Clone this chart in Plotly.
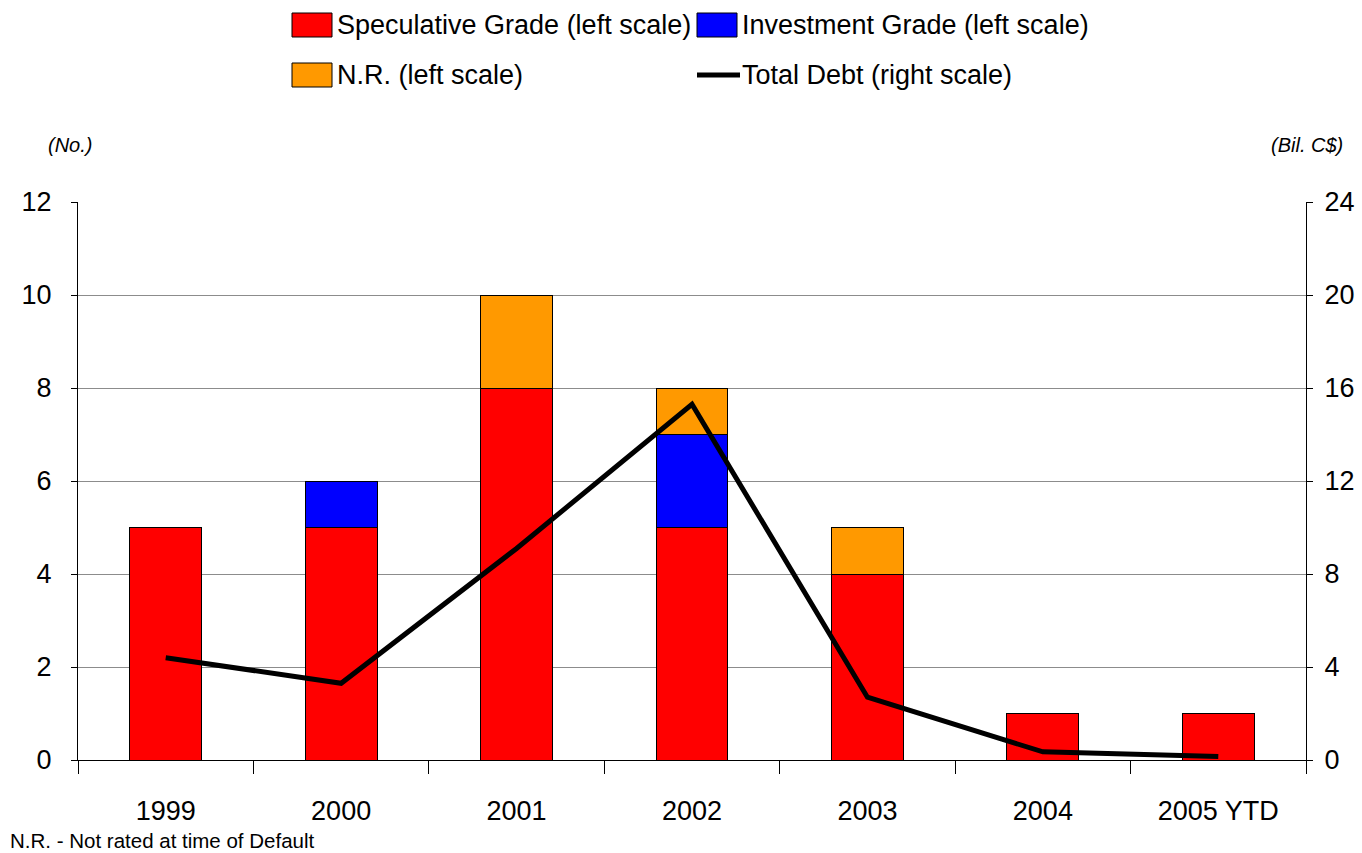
import plotly.graph_objects as go

# Defaults by year
years = ["1999", "2000", "2001", "2002", "2003", "2004", "2005 YTD"]
speculative = [5, 5, 8, 5, 4, 1, 1]
investment = [0, 1, 0, 2, 0, 0, 0]
not_rated = [0, 0, 2, 1, 1, 0, 0]
total_debt = [4.4, 3.3, 9.1, 15.3, 2.7, 0.35, 0.15]  # Bil. C$

left_ticks = [0, 2, 4, 6, 8, 10, 12]
right_ticks = [0, 4, 8, 12, 16, 20, 24]

FONT = "Liberation Sans, Arial, sans-serif"
W, H = 1362, 853
ML, MR, MT, MB = 78, 56, 202, 93
PW, PH = W - ML - MR, H - MT - MB


def px(x):
    return (x - ML) / PW


def py(y):
    return (H - MB - y) / PH


fig = go.Figure()
bar_line = dict(color="black", width=1)
fig.add_trace(go.Bar(x=years, y=speculative, name="Speculative Grade (left scale)",
                     marker=dict(color="#ff0000", line=bar_line), showlegend=False))
fig.add_trace(go.Bar(x=years, y=investment, name="Investment Grade (left scale)",
                     marker=dict(color="#0000ff", line=bar_line), showlegend=False))
fig.add_trace(go.Bar(x=years, y=not_rated, name="N.R. (left scale)",
                     marker=dict(color="#ff9900", line=bar_line), showlegend=False))
fig.add_trace(go.Scatter(x=years, y=total_debt, name="Total Debt (right scale)", yaxis="y2",
                         mode="lines", line=dict(color="black", width=5), showlegend=False))

# Legend drawn as swatches + labels
legend_items = [
    ("Speculative Grade (left scale)", "#ff0000", "box", 292, 25),
    ("Investment Grade (left scale)", "#0000ff", "box", 697, 25),
    ("N.R. (left scale)", "#ff9900", "box", 292, 75),
    ("Total Debt (right scale)", "black", "line", 697, 75),
]
shapes = []
annotations = []
for label, color, kind, x0, yc in legend_items:
    if kind == "box":
        shapes.append(dict(type="rect", xref="paper", yref="paper",
                           x0=px(x0), x1=px(x0 + 40), y0=py(yc + 12), y1=py(yc - 12),
                           fillcolor=color, line=dict(color="black", width=1)))
    else:
        shapes.append(dict(type="line", xref="paper", yref="paper",
                           x0=px(x0), x1=px(x0 + 43), y0=py(yc), y1=py(yc),
                           line=dict(color=color, width=5)))
    annotations.append(dict(text=label, xref="paper", yref="paper", x=px(x0 + 43), y=py(yc),
                            xanchor="left", yanchor="middle", showarrow=False,
                            font=dict(size=27, color="black", family=FONT)))

annotations += [
    dict(text="<i>(No.)</i>", xref="paper", yref="paper", x=px(70), y=py(145),
         xanchor="center", yanchor="middle", showarrow=False,
         font=dict(size=20, color="black", family=FONT)),
    dict(text="<i>(Bil. C$)</i>", xref="paper", yref="paper", x=px(1345), y=py(145),
         xanchor="right", yanchor="middle", showarrow=False,
         font=dict(size=20, color="black", family=FONT)),
    dict(text="N.R. - Not rated at time of Default", xref="paper", yref="paper", x=px(8), y=py(840),
         xanchor="left", yanchor="middle", showarrow=False,
         font=dict(size=20.5, color="black", family=FONT)),
]

fig.update_layout(
    width=W, height=H,
    margin=dict(l=ML, r=MR, t=MT, b=MB, pad=0),
    paper_bgcolor="white", plot_bgcolor="white",
    barmode="stack", bargap=0.59,
    font=dict(family=FONT, color="black", size=27),
    shapes=shapes, annotations=annotations,
    xaxis=dict(type="category", showline=True, linecolor="black", linewidth=1,
               ticks="outside", tickson="boundaries", ticklen=13, tickcolor="black",
               tickfont=dict(size=27), ticklabelstandoff=27, showgrid=False, automargin=False),
    yaxis=dict(range=[0, 12], tickvals=left_ticks, showline=True, linecolor="black", linewidth=1,
               ticks="outside", ticklen=6, tickcolor="black", tickfont=dict(size=27),
               ticklabelstandoff=14, showgrid=True, gridcolor="#8c8c8c", gridwidth=1,
               zeroline=False, automargin=False),
    yaxis2=dict(range=[0, 24], tickvals=right_ticks, overlaying="y", side="right",
                showline=True, linecolor="black", linewidth=1, ticks="outside", ticklen=6,
                tickcolor="black", tickfont=dict(size=27), ticklabelstandoff=6,
                showgrid=False, zeroline=False, automargin=False),
)

fig.write_html("out.html")
